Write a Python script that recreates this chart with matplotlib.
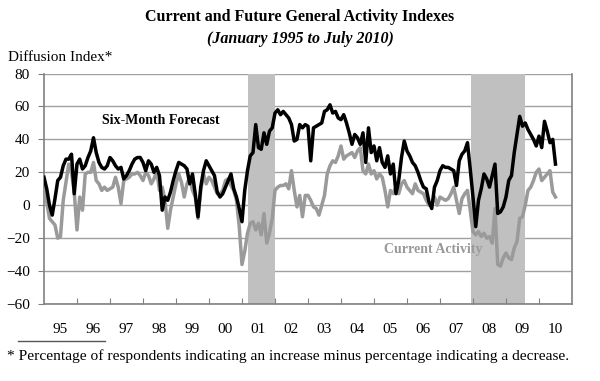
import matplotlib.pyplot as plt
import numpy as np
from matplotlib.lines import Line2D

plt.rcParams['font.family'] = ['Liberation Serif', 'DejaVu Serif']

# monthly values, Jan 1995 - Jul 2010 (one row per year)
forecast = [
    17, 10, 0, -6, 4, 15, 17, 24, 28, 28, 31, 7,
    25, 28, 22, 24, 29, 33, 41, 32, 26, 23, 22, 24,
    29, 27, 24, 22, 23, 16, 18, 21, 25, 28, 29, 29,
    26, 21, 27, 25, 20, 23, 18, -3, 5, 3, 8, 15,
    21, 26, 25, 24, 22, 13, 19, 7, -7, 11, 21, 27,
    24, 21, 18, 8, 5, 7, 11, 15, 19, 10, 5, -2,
    -10, 9, 21, 30, 32, 49, 35, 34, 44, 37, 45, 47,
    56, 58, 55, 57, 55, 53, 49, 39, 40, 49, 47, 49,
    48, 27, 47, 48, 49, 50, 57, 58, 61, 56, 57, 53,
    52, 55, 50, 44, 37, 43, 41, 37, 44, 26, 47, 32,
    36, 27, 35, 26, 23, 30, 19, 25, 7, 15, 29, 39,
    33, 30, 26, 24, 20, 15, 11, 10, 2, -2, 11, 15,
    21, 24, 23, 23, 22, 21, 12, 27, 31, 33, 38, 22,
    5, -13, 3, 10, 19, 16, 11, 18, 25, -5, -4, -1,
    5, 15, 18, 32, 43, 54, 48, 50, 46, 43, 40, 36,
    42, 35, 51, 45, 38, 40, 25,
]
current = [
    12, 2, -8, -10, -12, -20, -19, 3, 14, 25, 20, 8,
    -15, 5, -3, 19, 20, 20, 26, 15, 13, 9, 11, 9,
    10, 11, 17, 11, 1, 15, 16, 17, 19, 19, 20, 18,
    15, 20, 18, 13, 16, 21, 9, 11, 3, -14, -3, 5,
    13, 19, 14, 5, 13, 17, 9, 5, -8, 9, 19, 13,
    17, 15, 11, 7, 7, 9, 15, 16, 12, 9, 3, -13,
    -36, -28, -17, -11, -10, -15, -11, -18, -5, -23, -17, -8,
    9, 11, 12, 12, 13, 10, 21, 9, -1, 6, -7, 6,
    6, 3, -1, -2, -6, 0, 6, 19, 24, 27, 26, 30,
    36, 28, 30, 31, 32, 29, 33, 35, 21, 19, 25, 19,
    21, 16, 19, 17, 9, -1, 9, 7, 11, 7, 13, 15,
    11, 9, 7, 13, 9, 8, 7, 3, 0, 1, 5, 0,
    5, 4, 3, 4, 7, 11, 3, -5, 4, 7, 9, -3,
    -16, -18, -16, -19, -17, -20, -19, -23, -2, -36, -37, -32,
    -29, -32, -33, -26, -22, -8, -7, 0, 9, 11, 15, 20,
    22, 15, 17, 19, 21, 8, 5,
]
recessions = [(2001.17, 2002.0), (2007.93, 2009.58)]
year_labels = ['95', '96', '97', '98', '99', '00', '01', '02', '03', '04',
               '05', '06', '07', '08', '09', '10']

t = 1995 + np.arange(len(forecast)) / 12

fig = plt.figure(figsize=(6, 3.81), dpi=100)
ax = fig.add_axes([0.0733, 0.202, 0.88, 0.605])

for a, b in recessions:
    ax.axvspan(a, b, color='#c0c0c0', lw=0, zorder=1)

for v in range(-60, 81, 20):
    ax.axhline(v, color='#a0a0a0', lw=1, zorder=0)

ax.plot(t, current, color='#9a9a9a', lw=2.5, zorder=3)
ax.plot(t, forecast, color='black', lw=2.5, zorder=4)

ax.set_xlim(1995, 2011)
ax.set_ylim(-60, 80)
ax.set_yticks(range(-60, 81, 20))
ax.tick_params(axis='y', length=4, color='#808080', labelsize=11, pad=6)

ax.set_xticks(range(1996, 2011))
ax.set_xticklabels([])
ax.tick_params(axis='x', which='major', direction='in', length=4, color='#808080')
ax.set_xticks(np.arange(1995.5, 2011, 1), minor=True)
ax.set_xticklabels(year_labels, minor=True)
ax.tick_params(axis='x', which='minor', length=0, labelsize=11, pad=14)

for s in ['left', 'bottom', 'right']:
    ax.spines[s].set_color('#808080')
    ax.spines[s].set_linewidth(1.2)
ax.spines['top'].set_visible(False)

ax.text(1998.55, 51.5, 'Six-Month Forecast', fontsize=10, fontweight='bold',
        ha='center', va='center', zorder=5)
ax.text(2006.8, -27, 'Current Activity', fontsize=10, fontweight='bold',
        color='#999999', ha='center', va='center', zorder=5)

fig.text(0.5, 0.955, 'Current and Future General Activity Indexes',
         fontsize=11.5, fontweight='bold', ha='center', va='center')
fig.text(0.5, 0.897, '(January 1995 to July 2010)', fontsize=11.5,
         fontweight='bold', style='italic', ha='center', va='center')
fig.text(0.013, 0.85, 'Diffusion Index*', fontsize=11, ha='left', va='center')

fig.add_artist(Line2D([0.03, 0.175], [1 - 341 / 381, 1 - 341 / 381],
                      color='#555555', lw=1))
fig.text(0.012, 1 - 356 / 381,
         '* Percentage of respondents indicating an increase minus percentage indicating a decrease.',
         fontsize=11.1, ha='left', va='center')

fig.savefig('out.png', dpi=100)
